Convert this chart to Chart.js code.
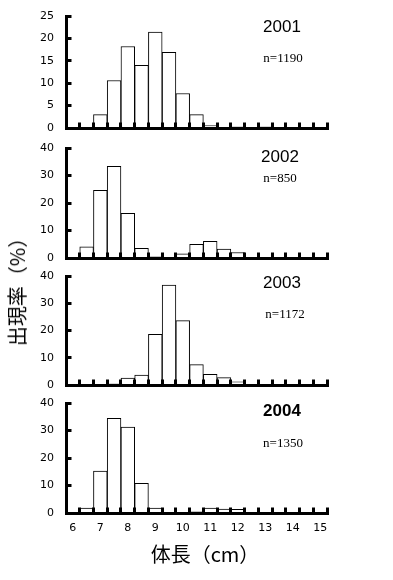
<!DOCTYPE html>
<html lang="ja">
<head>
    <meta charset="UTF-8">
    <title>体長組成 2001-2004</title>
    <style>
        body { margin: 0; background: #fff; width: 393px; height: 580px; position: relative; overflow: hidden; }
        .panel { position: absolute; left: 0; width: 393px; }
        .yr { position: absolute; width: 80px; text-align: center; font: 17px "Liberation Sans", sans-serif; line-height: 17px; color: #000; }
        .n { position: absolute; width: 80px; text-align: center; font: 13px "Liberation Serif", serif; line-height: 13px; color: #000; }
        .ttl { position: absolute; font: 20px "Noto Sans CJK JP", sans-serif; line-height: 20px; white-space: nowrap; color: #000; }
    </style>
</head>
<body>
    <!-- each canvas: 26px above the plot top, plot, then the x axis box -->
    <div class="panel" style="top:-10px;height:164px"><canvas id="c2001"></canvas></div>
    <div class="panel" style="top:122px;height:162px"><canvas id="c2002"></canvas></div>
    <div class="panel" style="top:250px;height:161px"><canvas id="c2003"></canvas></div>
    <div class="panel" style="top:377px;height:166px"><canvas id="c2004"></canvas></div>

    <div class="yr" id="y0" style="left:242px;top:18px"></div>
    <div class="n" id="n0" style="left:243px;top:51px"></div>
    <div class="yr" id="y1" style="left:240px;top:148px"></div>
    <div class="n" id="n1" style="left:240px;top:171px"></div>
    <div class="yr" id="y2" style="left:242px;top:274px"></div>
    <div class="n" id="n2" style="left:245px;top:307px"></div>
    <div class="yr" id="y3" style="left:242px;top:402px;font-weight:bold"></div>
    <div class="n" id="n3" style="left:243px;top:436px"></div>

    <div class="ttl" style="left:17px;top:287px;transform:translate(-50%,-50%) rotate(-90deg)">出現率（%）</div>
    <div class="ttl" style="left:205px;top:554px;transform:translate(-50%,-50%)">体長（cm）</div>

    <script src="https://cdn.jsdelivr.net/npm/chart.js@4.4.1/dist/chart.umd.min.js"></script>
    <script>
        // 0.5 cm size classes, labels only on whole cm
        var sizeClasses = [6, 6.5, 7, 7.5, 8, 8.5, 9, 9.5, 10, 10.5, 11, 11.5, 12, 12.5, 13, 13.5, 14, 14.5, 15];

        var years = ['2001', '2002', '2003', '2004'];
        var sampleSizes = [1190, 850, 1172, 1350];

        // percent of fish in each class
        var pct2001 = [0, 0, 3.0, 10.6, 18.2, 14.0, 21.4, 16.9, 7.7, 3.0, 0.6, 0, 0.2, 0, 0.2, 0, 0, 0, 0];
        var pct2002 = [0, 4.1, 24.6, 33.3, 16.2, 3.5, 0.6, 0, 1.5, 5.0, 6.1, 3.2, 2.0, 0, 0, 0, 0, 0, 0];
        var pct2003 = [0, 0, 0, 0.4, 2.5, 3.6, 18.6, 36.7, 23.6, 7.5, 3.9, 2.7, 1.2, 0, 0, 0, 0, 0, 0];
        var pct2004 = [0, 1.8, 15.2, 34.4, 31.2, 10.8, 1.8, 0, 0, 0.5, 1.8, 1.4, 1.3, 0, 0, 0, 0, 0, 0];

        var yMax = [25, 40, 40, 40];
        var yStep = [5, 10, 10, 10];

        var tickFont = { family: 'DejaVu Sans', size: 11 };

        function makePanel(id, values, max, step, showLabels) {
            var ctx = document.getElementById(id).getContext('2d');
            return new Chart(ctx, {
                type: 'bar',
                data: {
                    labels: sizeClasses,
                    datasets: [{
                        data: values,
                        backgroundColor: '#fff',
                        borderColor: '#000',
                        borderWidth: 1,
                        barPercentage: 1,
                        categoryPercentage: 1
                    }]
                },
                options: {
                    responsive: true,
                    maintainAspectRatio: false,
                    devicePixelRatio: 1,
                    animation: false,
                    // y tick padding also pads the plot top/bottom (~24px), so fix it at 26
                    layout: { padding: { top: 26, left: 0, right: 66, bottom: 0 } },
                    plugins: { legend: { display: false }, tooltip: { enabled: false } },
                    scales: {
                        x: {
                            grid: { drawOnChartArea: false, drawTicks: true, tickLength: -5.5, lineWidth: 3, color: '#000', z: 1 },
                            border: { color: '#000', width: 3, z: 1 },
                            ticks: {
                                display: showLabels,
                                autoSkip: false,
                                maxRotation: 0,
                                padding: 14.5,
                                color: '#000',
                                font: tickFont,
                                callback: function (v, i) {
                                    var c = sizeClasses[i];
                                    return Number.isInteger(c) ? String(c) : '';
                                }
                            },
                            afterFit: function (s) { s.height = showLabels ? 30 : 26; }
                        },
                        y: {
                            min: 0,
                            max: max,
                            grid: { drawOnChartArea: false, drawTicks: true, tickLength: -5.5, lineWidth: 3, color: '#000', z: 1 },
                            border: { color: '#000', width: 3, z: 1 },
                            ticks: { stepSize: step, padding: 17.5, color: '#000', font: tickFont },
                            afterFit: function (s) { s.width = 66; }
                        }
                    }
                }
            });
        }

        var series = [pct2001, pct2002, pct2003, pct2004];
        years.forEach(function (yr, i) {
            makePanel('c' + yr, series[i], yMax[i], yStep[i], i === years.length - 1);
            document.getElementById('y' + i).textContent = yr;
            document.getElementById('n' + i).textContent = 'n=' + sampleSizes[i];
        });
    </script>
</body>
</html>
